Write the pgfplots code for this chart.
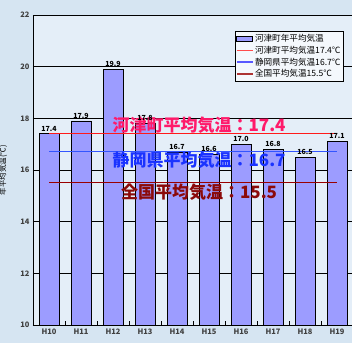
\documentclass[border=0pt]{standalone}
\usepackage{pgfplots}
\pgfplotsset{compat=1.18}
\usepackage{fontspec}
\setmainfont{Noto Sans CJK JP}
\definecolor{bgout}{HTML}{D6E5F2}
\definecolor{bgin}{HTML}{E4EEF8}
\definecolor{barfill}{HTML}{9C9CFF}
\definecolor{kred}{HTML}{FF1A1A}
\definecolor{kblue}{HTML}{3355FF}
\definecolor{kdark}{HTML}{990000}
\definecolor{tpink}{HTML}{FF1A6A}
\definecolor{tblue}{HTML}{1A33FF}
\definecolor{tdark}{HTML}{8B0A0A}
\begin{document}
\begin{tikzpicture}[x=1pt,y=1pt]
\useasboundingbox (0,0) rectangle (352,343);
\fill[bgout] (0,0) rectangle (352,343);
\begin{axis}[
  at={(33pt,18pt)}, anchor=south west,
  scale only axis, width=320pt, height=310pt,
  xmin=-0.5, xmax=9.5, ymin=10, ymax=22,
  axis background/.style={fill=bgin},
  axis x line*=bottom, axis y line*=left,
  axis line style={black, line width=0.8pt, -},
  xtick={0,...,9},
  xticklabels={H10,H11,H12,H13,H14,H15,H16,H17,H18,H19},
  major x tick style={draw=none},
  minor xtick={-0.5,0.5,...,9.5},
  minor x tick style={black, line width=0.6pt},
  minor tick length=4pt,
  ytick={10,12,...,22},
  major y tick style={draw=none},
  ymajorgrids, grid style={black, line width=0.6pt},
  tick label style={font=\fontsize{7.5}{8}\selectfont\bfseries, text=black!75},
  /pgf/number format/assume math mode=true,
  ylabel={年平均気温(℃)},
  ylabel style={font=\fontsize{7.5}{8}\selectfont, at={(axis description cs:-0.07,0.5)}},
  legend style={at={(0.631,0.948)}, anchor=north west,
    font=\fontsize{8.6}{10}\selectfont, fill=white!60!bgin, inner xsep=1pt, inner ysep=1pt,
    row sep=-1pt, nodes={inner xsep=1.5pt}},
  legend cell align=left,
  clip=false,
]
\addplot[ybar, bar width=20pt, fill=barfill, draw=black, line width=0.7pt,
  /pgf/number format/fixed, /pgf/number format/fixed zerofill, /pgf/number format/precision=1,
  nodes near coords,
  every node near coord/.append style={font=\fontsize{7}{7}\selectfont\bfseries, text=black, yshift=-1pt},
  legend image code/.code={\draw[fill=barfill,draw=black,line width=0.8pt] (0pt,-2.5pt) rectangle (16pt,2.5pt);}]
  coordinates {(0,17.4) (1,17.9) (2,19.9) (3,17.8) (4,16.7) (5,16.6) (6,17.0) (7,16.8) (8,16.5) (9,17.1)};
\addlegendentry{河津町年平均気温}
\addplot[kred, line width=0.9pt,
  legend image code/.code={\draw[red!70!white, line width=1.4pt] (0pt,0pt) -- (16pt,0pt);}]
  coordinates {(0,17.4) (9,17.4)};
\addlegendentry{河津町平均気温17.4℃}
\addplot[kblue, line width=0.9pt,
  legend image code/.code={\draw[blue!65!white, line width=1.4pt] (0pt,0pt) -- (16pt,0pt);}]
  coordinates {(0,16.7) (9,16.7)};
\addlegendentry{静岡県平均気温16.7℃}
\addplot[kdark, line width=0.9pt,
  legend image code/.code={\draw[kdark!80!white, line width=1.4pt] (0pt,0pt) -- (16pt,0pt);}]
  coordinates {(0,15.5) (9,15.5)};
\addlegendentry{全国平均気温15.5℃}
\node[font=\fontsize{17}{18}\selectfont\bfseries, text=tpink] at (axis cs:4.69,17.74) {河津町平均気温：17.4};
\node[font=\fontsize{17}{18}\selectfont\bfseries, text=tblue] at (axis cs:4.69,16.39) {静岡県平均気温：16.7};
\node[font=\fontsize{17}{18}\selectfont\bfseries, text=tdark] at (axis cs:4.69,15.15) {全国平均気温：15.5};
\end{axis}
\end{tikzpicture}
\end{document}
